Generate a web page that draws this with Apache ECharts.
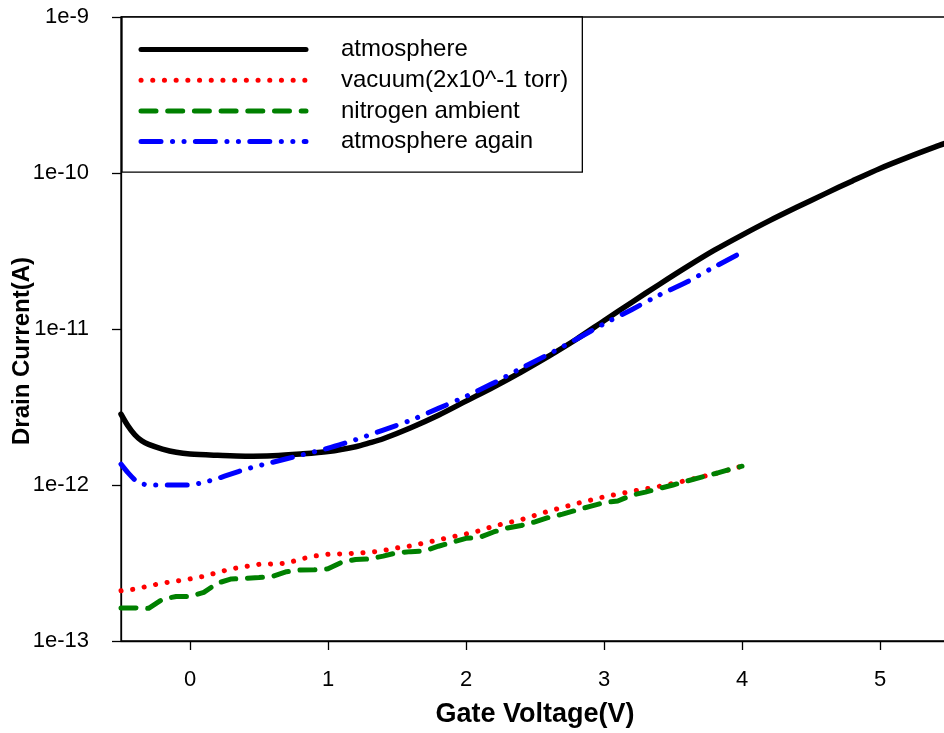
<!DOCTYPE html>
<html>
<head>
<meta charset="utf-8">
<script src="https://cdn.jsdelivr.net/npm/echarts@6/dist/echarts.min.js"></script>
<style>
html,body{margin:0;padding:0;background:#fff;}
#chart{width:944px;height:733px;}
</style>
</head>
<body>
<div id="chart"></div>
<script>
// ---- data ----
var seriesNames = ['atmosphere', 'vacuum(2x10^-1 torr)', 'nitrogen ambient', 'atmosphere again'];

var vAtm = [-0.5,-0.45,-0.4,-0.35,-0.3,-0.2,-0.1,0,0.2,0.4,0.6,0.8,1.0,1.2,1.3,1.4,1.6,1.8,2.0,2.2,2.4,2.6,2.8,3.0,3.2,3.4,3.6,3.8,4.0,4.2,4.4,4.6,4.8,5.0,5.2,5.4,5.5];
var iAtm = [2.85e-12,2.4e-12,2.1e-12,1.92e-12,1.82e-12,1.7e-12,1.62e-12,1.58e-12,1.55e-12,1.53e-12,1.54e-12,1.58e-12,1.64e-12,1.76e-12,1.86e-12,1.98e-12,2.33e-12,2.8e-12,3.45e-12,4.25e-12,5.3e-12,6.7e-12,8.6e-12,1.13e-11,1.48e-11,1.93e-11,2.5e-11,3.2e-11,4.0e-11,4.95e-11,6.05e-11,7.35e-11,8.9e-11,1.07e-10,1.26e-10,1.47e-10,1.58e-10];

var vVac = [-0.5,-0.4,-0.3,-0.2,-0.1,0,0.1,0.2,0.3,0.4,0.5,0.6,0.7,0.8,0.9,1.0,1.1,1.2,1.3,1.4,1.5,1.6,1.7,1.8,1.9,2.0,2.1,2.2,2.4,2.6,2.8,3.0,3.2,3.4,3.6,3.8,4.0];
var iVac = [2.1e-13,2.15e-13,2.25e-13,2.35e-13,2.42e-13,2.5e-13,2.6e-13,2.75e-13,2.9e-13,3.0e-13,3.1e-13,3.12e-13,3.15e-13,3.35e-13,3.5e-13,3.6e-13,3.62e-13,3.65e-13,3.7e-13,3.8e-13,3.95e-13,4.07e-13,4.25e-13,4.45e-13,4.65e-13,4.85e-13,5.1e-13,5.45e-13,6.0e-13,6.8e-13,7.6e-13,8.4e-13,9.1e-13,9.8e-13,1.07e-12,1.18e-12,1.32e-12];

var vN2 = [-0.5,-0.4,-0.3,-0.2,-0.1,0,0.1,0.2,0.3,0.4,0.5,0.6,0.7,0.8,0.9,1.0,1.1,1.2,1.3,1.4,1.5,1.6,1.7,1.8,1.9,2.0,2.1,2.2,2.3,2.4,2.5,2.6,2.7,2.8,2.9,3.0,3.1,3.2,3.3,3.4,3.5,3.6,3.7,3.8,3.9,4.0];
var iN2 = [1.63e-13,1.63e-13,1.62e-13,1.85e-13,1.93e-13,1.93e-13,2.05e-13,2.35e-13,2.5e-13,2.52e-13,2.55e-13,2.6e-13,2.78e-13,2.85e-13,2.86e-13,2.9e-13,3.2e-13,3.33e-13,3.36e-13,3.5e-13,3.68e-13,3.74e-13,3.78e-13,4.05e-13,4.3e-13,4.55e-13,4.62e-13,5.0e-13,5.3e-13,5.5e-13,5.8e-13,6.2e-13,6.5e-13,6.9e-13,7.3e-13,7.7e-13,7.9e-13,8.6e-13,9.0e-13,9.5e-13,1.0e-12,1.06e-12,1.12e-12,1.18e-12,1.25e-12,1.32e-12];

var vAgain = [-0.5,-0.45,-0.4,-0.35,-0.3,-0.1,0,0.1,0.2,0.3,0.4,0.5,0.6,0.8,1.0,1.2,1.4,1.6,1.8,2.0,2.2,2.4,2.6,2.8,3.0,3.2,3.4,3.6,3.8,4.0];
var iAgain = [1.36e-12,1.2e-12,1.08e-12,1.02e-12,1.0e-12,1.0e-12,1.0e-12,1.04e-12,1.1e-12,1.18e-12,1.26e-12,1.33e-12,1.4e-12,1.55e-12,1.72e-12,1.95e-12,2.25e-12,2.6e-12,3.1e-12,3.7e-12,4.5e-12,5.6e-12,6.9e-12,8.6e-12,1.08e-11,1.33e-11,1.65e-11,2.0e-11,2.5e-11,3.1e-11];

var xTicks = [0,1,2,3,4,5];
var yTicks = [1e-13,1e-12,1e-11,1e-10,1e-9];

function zip(xs, ys){ return xs.map(function(x,i){ return [x, ys[i]]; }); }

var font = 'Liberation Sans, Arial, sans-serif';
var chart = echarts.init(document.getElementById('chart'), null, {renderer:'canvas'});

chart.setOption({
  animation: false,
  backgroundColor: '#fff',
  grid: {
    left: 121, top: 17, width: 828, height: 624,
    show: true, borderColor: '#000', borderWidth: 1.3, backgroundColor: 'transparent',
    containLabel: false, outerBoundsMode: 'none'
  },
  legend: {
    orient: 'vertical',
    left: 122, top: 17,
    padding: [20.5, 14, 18.5, 16.5],
    backgroundColor: '#fff',
    borderColor: '#000', borderWidth: 1.3, borderRadius: 0,
    itemWidth: 165, itemHeight: 14, itemGap: 6.7,
    itemStyle: { opacity: 0 },
    lineStyle: { width: 5 },
    textStyle: { fontFamily: font, fontSize: 24, color: '#000', lineHeight: 24, padding: [0,0,0,30] },
    data: seriesNames
  },
  xAxis: {
    type: 'value', min: -0.5, max: 5.5,
    name: 'Gate Voltage(V)', nameLocation: 'middle', nameGap: 60,
    nameTextStyle: { fontFamily: font, fontSize: 27, fontWeight: 'bold', color: '#000' },
    axisLine: { onZero: false, lineStyle: { color: '#000', width: 1.3 } },
    axisTick: { show: true, inside: false, length: 9, customValues: xTicks, lineStyle: { color: '#000', width: 1.3 } },
    axisLabel: { customValues: xTicks, margin: 28, fontFamily: font, fontSize: 22, color: '#000' },
    splitLine: { show: false }
  },
  yAxis: {
    type: 'log', logBase: 10, min: 1e-13, max: 1e-9,
    name: 'Drain Current(A)', nameLocation: 'middle', nameGap: 87, nameMoveOverlap: false,
    nameTextStyle: { fontFamily: font, fontSize: 24, fontWeight: 'bold', color: '#000', padding: [0, 44, 0, 0] },
    axisLine: { onZero: false, lineStyle: { color: '#000', width: 1.3 } },
    axisTick: { show: true, inside: false, length: 9, customValues: yTicks, lineStyle: { color: '#000', width: 1.3 } },
    minorTick: { show: false },
    axisLabel: { customValues: yTicks, margin: 32, fontFamily: font, fontSize: 22, color: '#000',
      formatter: function(v){ return '1e' + Math.round(Math.log10(v)); } },
    splitLine: { show: false }
  },
  series: [
    { name: seriesNames[0], type: 'line', data: zip(vAtm, iAtm), showSymbol: false, symbol: 'none', smooth: 0.3, clip: true,
      lineStyle: { color: '#000', width: 5.5, cap: 'round', join: 'round' }, itemStyle: { color: '#000' } },
    { name: seriesNames[1], type: 'line', data: zip(vVac, iVac), showSymbol: false, symbol: 'none', clip: true,
      lineStyle: { color: '#ff0000', width: 5, type: [0.1, 11.6], cap: 'round', join: 'round' }, itemStyle: { color: '#ff0000' } },
    { name: seriesNames[2], type: 'line', data: zip(vN2, iN2), showSymbol: false, symbol: 'none', clip: true,
      lineStyle: { color: '#008000', width: 5, type: [15, 11.7], cap: 'round', join: 'round' }, itemStyle: { color: '#008000' } },
    { name: seriesNames[3], type: 'line', data: zip(vAgain, iAgain), showSymbol: false, symbol: 'none', smooth: 0.2, clip: true,
      lineStyle: { color: '#0000ff', width: 5, type: [20, 11.5, 0.1, 11.4, 0.1, 11.3], cap: 'round', join: 'round' }, itemStyle: { color: '#0000ff' } }
  ]
});
</script>
</body>
</html>
